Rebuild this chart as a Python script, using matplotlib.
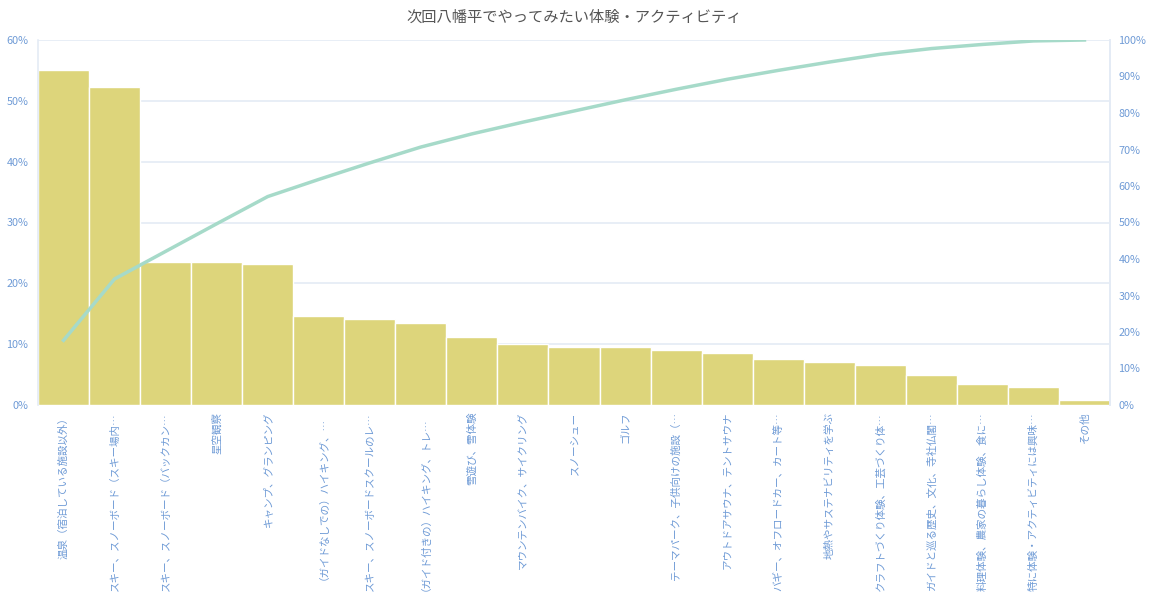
import matplotlib.pyplot as plt
import numpy as np
from matplotlib.ticker import PercentFormatter

plt.rcParams['font.family'] = ['Noto Sans CJK JP', 'DejaVu Sans']

# activities (labels as shown, truncated like the original)
categories = [
    '温泉（宿泊している施設以外）',
    'スキー、スノーボード（スキー場内…',
    'スキー、スノーボード（バックカン…',
    '星空観察',
    'キャンプ、グランピング',
    '（ガイドなしでの）ハイキング、…',
    'スキー、スノーボードスクールのレ…',
    '（ガイド付きの）ハイキング、トレ…',
    '雪遊び、雪体験',
    'マウンテンバイク、サイクリング',
    'スノーシュー',
    'ゴルフ',
    'テーマパーク、子供向けの施設（…',
    'アウトドアサウナ、テントサウナ',
    'バギー、オフロードカー、カート等…',
    '地熱やサステナビリティを学ぶ',
    'クラフトづくり体験、工芸づくり体…',
    'ガイドと巡る歴史、文化、寺社仏閣…',
    '料理体験、農家の暮らし体験、食に…',
    '特に体験・アクティビティには興味…',
    'その他',
]
# share of respondents (%)
share = [55.1, 52.3, 23.5, 23.5, 23.2, 14.6, 14.1, 13.5, 11.2, 10.0, 9.5,
         9.5, 9.0, 8.5, 7.6, 7.1, 6.6, 4.9, 3.5, 3.0, 0.8]

# cumulative share (pareto line)
cum_share = np.cumsum(share) / np.sum(share) * 100

text_blue = '#6f9bd6'
grid_col = '#e4ebf5'

fig = plt.figure(figsize=(11.49, 5.99), dpi=100)
ax = fig.add_axes([38 / 1149, 1 - 405 / 599, (1110 - 38) / 1149, (405 - 40) / 599])

x = np.arange(len(categories))
ax.bar(x, share, width=1.0, color='#ddd57b', edgecolor='white', linewidth=1, zorder=2)
ax.set_xlim(-0.5, len(categories) - 0.5)
ax.set_ylim(0, 60)
ax.set_yticks(np.arange(0, 61, 10))
ax.yaxis.set_major_formatter(PercentFormatter(decimals=0))
ax.grid(axis='y', color=grid_col, linewidth=1.2, zorder=0)
ax.set_axisbelow(True)

ax.set_xticks(x)
ax.set_xticklabels(categories, rotation=90, va='top', ha='center', fontsize=7.6, color=text_blue)
ax.tick_params(axis='both', length=0)
ax.tick_params(axis='x', pad=5)
ax.tick_params(axis='y', labelsize=7.8, labelcolor=text_blue, pad=7)

for s in ['top', 'bottom']:
    ax.spines[s].set_visible(False)
for s in ['left', 'right']:
    ax.spines[s].set_color(grid_col)
    ax.spines[s].set_linewidth(1.2)

ax2 = ax.twinx()
ax2.plot(x, cum_share, color='#a6dac9', linewidth=2.5, zorder=3)
ax2.set_ylim(0, 100)
ax2.set_yticks(np.arange(0, 101, 10))
ax2.yaxis.set_major_formatter(PercentFormatter(decimals=0))
ax2.tick_params(axis='y', length=0, labelsize=7.8, labelcolor=text_blue, pad=6)
for s in ['top', 'bottom', 'left']:
    ax2.spines[s].set_visible(False)
ax2.spines['right'].set_color(grid_col)
ax2.spines['right'].set_linewidth(1.2)

fig.text(0.5, 1 - 17 / 599, '次回八幡平でやってみたい体験・アクティビティ',
         ha='center', va='center', fontsize=11, color='#555555')

fig.savefig('out.png', dpi=100)
